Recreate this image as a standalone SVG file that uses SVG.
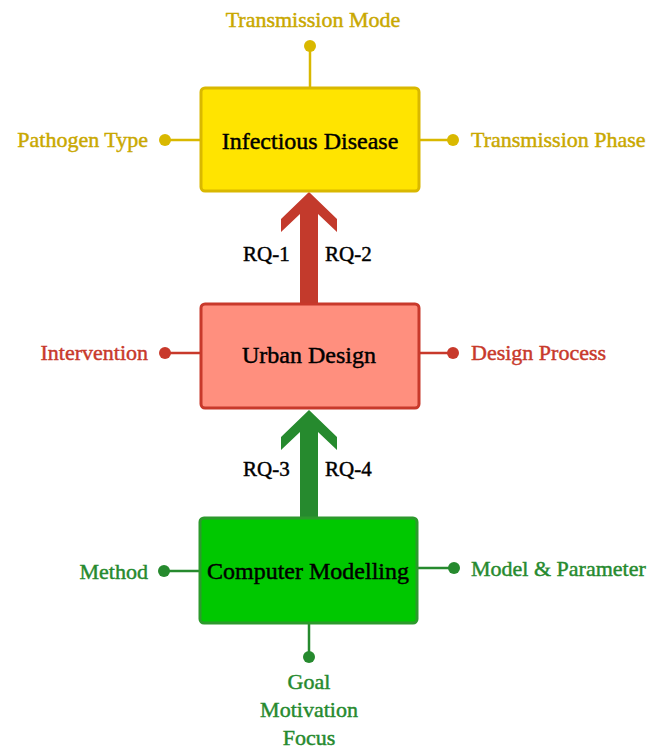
<svg xmlns="http://www.w3.org/2000/svg" width="659" height="750" viewBox="0 0 659 750">
<style>
text{font-family:"Liberation Serif","Times New Roman",serif;stroke-width:0.45;}
.main{font-size:24px;fill:#000;stroke:#000;text-anchor:middle;}
.lbl{font-size:22px;}
.rq{font-size:21px;fill:#000;stroke:#000;}
.y{fill:#C9A800;stroke:#C9A800;}
.r{fill:#C8392B;stroke:#C8392B;}
.g{fill:#268A2E;stroke:#268A2E;}
.ly{stroke:#D9B800;stroke-width:2.5;fill:none;}
.lr{stroke:#C8392B;stroke-width:2.5;fill:none;}
.lg{stroke:#268A2E;stroke-width:2.5;fill:none;}
</style>
<rect width="659" height="750" fill="#fff"/>
<g id="connectors">
  <line class="ly" x1="310" y1="46" x2="310" y2="87"/>
  <line class="ly" x1="165" y1="140" x2="201" y2="140"/>
  <line class="ly" x1="419" y1="140" x2="453" y2="140"/>
  <line class="lr" x1="165" y1="353" x2="201" y2="353"/>
  <line class="lr" x1="419" y1="353" x2="453" y2="353"/>
  <line class="lg" x1="164" y1="571" x2="200" y2="571"/>
  <line class="lg" x1="417" y1="568" x2="454" y2="568"/>
  <line class="lg" x1="309" y1="623" x2="309" y2="657"/>
  <polygon fill="#C33A2C" points="309,192 337,219 337,232 318,214 318,304 300,304 300,214 281,232 281,219"/>
  <polygon fill="#268A2E" points="309,410 337,437 337,450 318,432 318,519 300,519 300,432 281,450 281,437"/>
</g>
<g id="infectious-disease">
  <rect x="201" y="88" width="218" height="103" rx="4" fill="#FFE400" stroke="#D9B800" stroke-width="3"/>
  <text class="main" x="310" y="149">Infectious Disease</text>
</g>
<g id="transmission-mode">
  <circle cx="310" cy="46" r="6" fill="#D9B800"/>
  <text class="lbl y" x="313" y="27" text-anchor="middle">Transmission Mode</text>
</g>
<g id="pathogen-type">
  <circle cx="165" cy="140" r="6" fill="#D9B800"/>
  <text class="lbl y" x="148" y="147" text-anchor="end">Pathogen Type</text>
</g>
<g id="transmission-phase">
  <circle cx="453" cy="140" r="6" fill="#D9B800"/>
  <text class="lbl y" x="471" y="147">Transmission Phase</text>
</g>
<g id="rq-labels-1">
  <text class="rq" x="243" y="261">RQ-1</text>
  <text class="rq" x="325" y="261">RQ-2</text>
</g>
<g id="urban-design">
  <rect x="201" y="304" width="218" height="104" rx="4" fill="#FF8F7E" stroke="#C8392B" stroke-width="3"/>
  <text class="main" x="309" y="363">Urban Design</text>
</g>
<g id="intervention">
  <circle cx="165" cy="353" r="6" fill="#C8392B"/>
  <text class="lbl r" x="148" y="360" text-anchor="end">Intervention</text>
</g>
<g id="design-process">
  <circle cx="453" cy="353" r="6" fill="#C8392B"/>
  <text class="lbl r" x="471" y="360">Design Process</text>
</g>
<g id="rq-labels-2">
  <text class="rq" x="243" y="476">RQ-3</text>
  <text class="rq" x="325" y="476">RQ-4</text>
</g>
<g id="computer-modelling">
  <rect x="200" y="518" width="217" height="105" rx="4" fill="#00C800" stroke="#2C9A2C" stroke-width="3"/>
  <text class="main" x="308" y="579">Computer Modelling</text>
</g>
<g id="method">
  <circle cx="164" cy="571" r="6" fill="#268A2E"/>
  <text class="lbl g" x="148" y="579" text-anchor="end">Method</text>
</g>
<g id="model-parameter">
  <circle cx="454" cy="568" r="6" fill="#268A2E"/>
  <text class="lbl g" x="471" y="576">Model &amp; Parameter</text>
</g>
<g id="goal">
  <circle cx="309" cy="657" r="6" fill="#268A2E"/>
  <text class="lbl g" x="309" y="689" text-anchor="middle">Goal</text>
  <text class="lbl g" x="309" y="717" text-anchor="middle">Motivation</text>
  <text class="lbl g" x="309" y="745" text-anchor="middle">Focus</text>
</g>
</svg>
